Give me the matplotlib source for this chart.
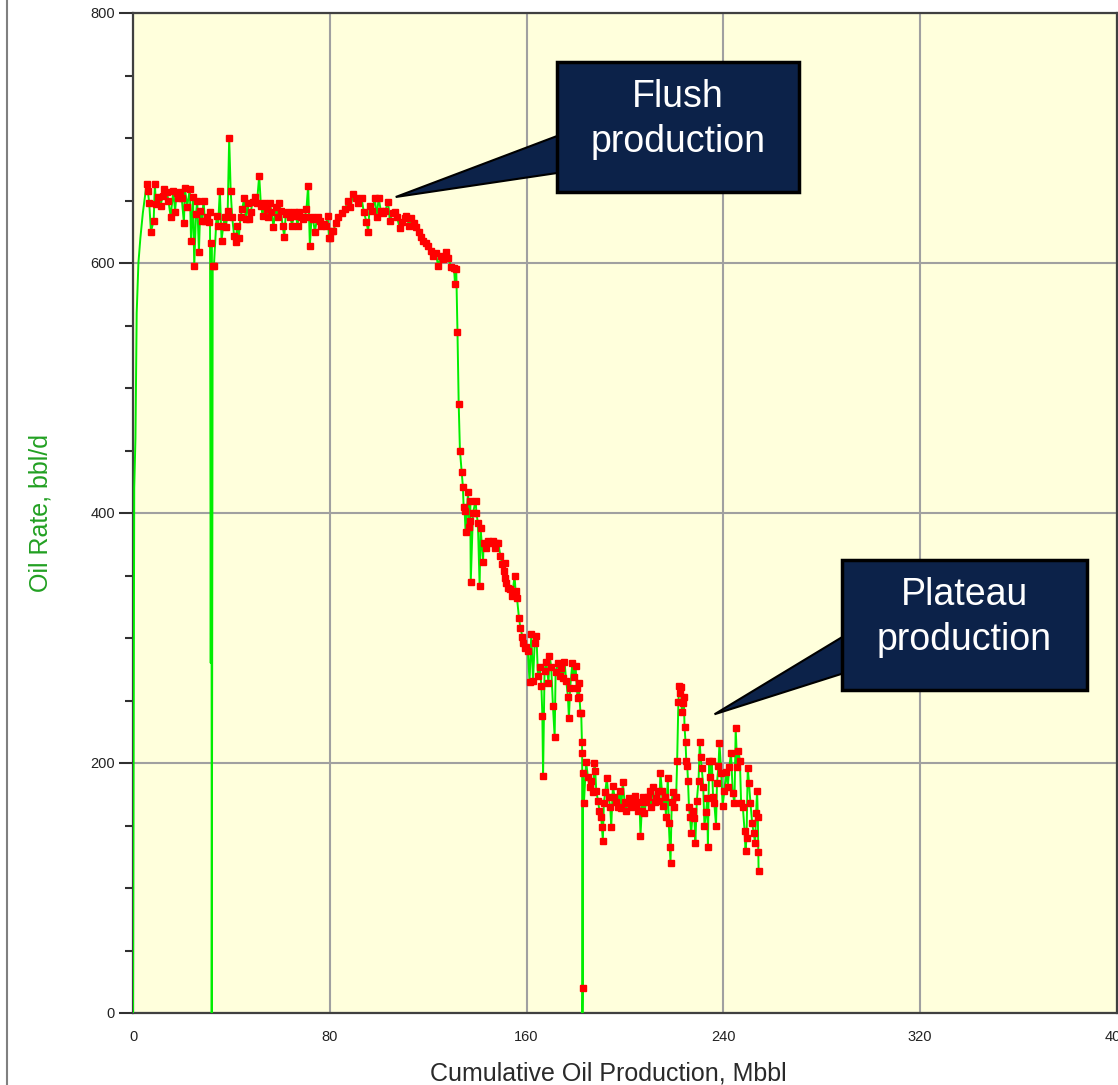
import numpy as np
import matplotlib
matplotlib.use("Agg")
from matplotlib import pyplot as plt
from matplotlib.patches import Polygon, Rectangle
from matplotlib.ticker import MultipleLocator

plt.rcParams['font.family'] = ['Liberation Sans', 'DejaVu Sans']

# cumulative oil production, Mbbl
cum_oil = [
    0.0, 0.2, 0.5, 1.0, 1.5, 2.2, 3.0, 4.0,
    5.5, 6.0, 6.6, 7.3, 8.4, 8.9, 9.3, 10.3, 11.2, 12.1, 12.7, 13.7, 14.4, 15.3,
    16.4, 17.1, 17.7, 18.4, 19.1, 19.8, 20.7, 21.1, 22.0, 23.1, 23.6, 24.4, 24.9,
    25.6, 26.1, 26.8, 27.3, 28.0, 28.7, 29.2, 29.9, 30.9, 31.3, 31.6, 31.9, 32.0,
    32.4, 32.9, 34.0, 34.6, 35.3, 36.0, 36.7, 37.4, 37.8, 38.5, 39.1, 39.7, 40.3,
    41.1, 41.7, 42.4, 43.0, 43.7, 44.4, 45.2, 45.9, 46.6, 47.2, 47.9, 48.6, 49.5,
    50.4, 51.3, 52.0, 52.7, 53.3, 54.3, 55.0, 55.6, 56.3, 57.1, 58.0, 58.8, 59.4,
    60.1, 60.8, 61.5, 62.1, 63.1, 63.9, 64.7, 65.5, 66.2, 66.9, 67.5, 68.2, 69.2,
    69.9, 70.5, 71.2, 71.9, 72.6, 73.2, 73.9, 75.0, 75.9, 76.6, 77.6, 78.4, 79.1,
    79.7, 80.0, 80.7, 81.3, 82.7, 83.4, 84.8, 86.1, 87.4, 88.4, 89.5, 90.6, 91.5,
    92.9, 93.8, 94.9, 95.6, 96.2, 97.3, 98.3, 99.0, 99.9, 100.7, 101.6, 102.6,
    103.7, 104.4, 105.5, 106.4, 107.3, 108.4, 109.5, 110.5, 111.1, 112.2, 113.2,
    114.1, 115.2, 116.1, 117.0, 117.9, 119.0, 119.9, 121.0, 122.0, 123.1, 124.0,
    125.2, 126.0, 127.1, 128.0, 129.4, 130.5, 130.9, 131.4, 131.9, 132.4, 132.9,
    133.6, 134.1, 134.4, 134.8, 135.2, 136.2, 136.5, 136.9, 137.1, 137.3, 138.2,
    139.3, 139.6, 140.2, 140.9, 141.3, 142.3, 142.5, 143.6, 144.3, 145.3, 146.3,
    147.0, 147.7, 148.5, 149.3, 150.1, 150.7, 151.2, 151.4, 151.8, 152.5, 153.4,
    154.2, 155.1, 155.5, 156.1, 156.9, 157.5, 158.3, 158.5, 159.2, 159.9, 160.5,
    161.2, 161.9, 162.6, 163.3, 164.0, 164.6, 165.3, 166.0, 166.4, 166.7, 167.3,
    168.0, 168.9, 169.3, 170.0, 170.7, 171.4, 171.8, 172.7, 173.4, 174.1, 174.8,
    175.4, 176.1, 176.8, 177.2, 177.7, 178.6, 179.1, 179.9, 180.4, 180.8, 181.1,
    181.5, 181.9, 182.2, 182.5, 182.6, 182.7, 182.8, 182.9, 183.3, 184.2, 184.9,
    185.6, 186.3, 187.0, 187.6, 187.9, 188.3, 189.0, 189.6, 190.3, 190.6, 191.0,
    191.4, 192.0, 192.6, 193.3, 194.0, 194.4, 195.1, 195.7, 196.4, 197.1, 197.8,
    198.5, 199.1, 199.8, 200.5, 201.1, 201.8, 202.5, 203.2, 203.9, 204.5, 205.2,
    205.9, 206.3, 206.8, 207.2, 207.9, 208.6, 209.3, 210.0, 210.6, 211.3, 212.0,
    212.7, 213.4, 214.0, 214.4, 215.0, 215.4, 216.1, 216.7, 217.4, 217.8, 218.2,
    218.5, 219.0, 219.4, 220.1, 220.8, 221.2, 221.7, 222.1, 222.5, 222.8, 223.1,
    223.5, 223.9, 224.2, 224.6, 224.9, 225.3, 225.6, 226.0, 226.4, 226.9, 227.6,
    228.2, 228.6, 229.2, 229.9, 230.4, 230.7, 231.2, 231.8, 232.3, 233.0, 233.4,
    233.7, 234.2, 234.7, 235.3, 235.8, 236.3, 237.0, 237.4, 238.0, 238.4, 239.1,
    239.7, 240.4, 241.1, 241.8, 242.4, 243.1, 243.8, 244.5, 245.0, 245.6, 246.1,
    246.7, 247.2, 247.9, 248.6, 249.0, 249.4, 249.9, 250.4, 251.0, 251.7, 252.3,
    252.9, 253.3, 253.7, 254.0, 254.2, 254.3,
]

# oil rate, bbl/d
oil_rate = [
    0, 172, 420, 460, 560, 600, 620, 640,
    663, 658, 648, 625, 634, 663, 647, 653, 646, 654, 659, 657, 650, 637,
    658, 641, 656, 652, 657, 652, 632, 660, 645, 659, 618, 653, 598,
    639, 650, 609, 642, 634, 650, 634, 637, 633, 641, 280, 616, 0,
    598, 598, 638, 630, 658, 618, 630, 637, 629, 642, 700, 658, 637,
    622, 617, 630, 620, 637, 643, 652, 635, 648, 635, 641, 649, 653,
    648, 670, 646, 638, 648, 643, 637, 648, 641, 629, 645, 637, 648,
    642, 630, 621, 639, 641, 637, 630, 641, 638, 630, 641, 637, 635,
    637, 643, 662, 614, 637, 635, 625, 637, 634, 630, 631, 630, 638,
    620, 620, 626, 626, 632, 637, 640, 643, 650, 645, 655, 652, 648,
    652, 641, 633, 625, 646, 642, 652, 637, 652, 642, 640, 642,
    649, 634, 640, 641, 637, 628, 633, 636, 638, 630, 636,
    632, 629, 625, 621, 618, 616, 614, 610, 606, 608, 598,
    606, 603, 609, 604, 597, 596, 583, 595, 545, 487, 450,
    433, 421, 405, 402, 385, 417, 389, 394, 410, 345, 400,
    410, 400, 392, 342, 388, 361, 376, 372, 378, 376, 378,
    372, 376, 376, 366, 359, 354, 360, 348, 344, 340, 339,
    334, 350, 338, 332, 316, 308, 301, 296, 292, 293, 290,
    265, 303, 266, 296, 302, 270, 277, 262, 238, 190, 274,
    281, 264, 286, 277, 246, 221, 273, 280, 270, 276, 268,
    281, 266, 253, 236, 260, 280, 269, 278, 260, 252, 264,
    253, 240, 240, 217, 208, 0, 20, 192, 168, 201, 189,
    181, 186, 177, 200, 194, 178, 170, 162, 157, 149, 138,
    168, 177, 188, 173, 165, 149, 182, 173, 169, 165, 178,
    164, 185, 169, 162, 168, 172, 165, 169, 174, 166, 162,
    169, 142, 162, 173, 160, 169, 173, 178, 165, 181, 169,
    172, 178, 170, 192, 178, 166, 173, 157, 188, 152, 133,
    120, 169, 177, 165, 173, 202, 249, 262, 256, 261, 241,
    248, 253, 229, 217, 202, 198, 186, 165, 157, 144, 162,
    156, 136, 170, 186, 217, 205, 196, 181, 150, 161, 172,
    133, 202, 189, 202, 173, 168, 150, 184, 198, 216, 192,
    166, 178, 193, 181, 197, 208, 176, 168, 228, 197, 210,
    202, 168, 165, 146, 130, 140, 196, 184, 168, 152, 144,
    136, 160, 178, 157, 129, 114,
]

x_ticks = [0, 80, 160, 240, 320, 400]
y_ticks = [0, 200, 400, 600, 800]

fig = plt.figure(figsize=(11.18, 10.85), dpi=100)
ax = fig.add_axes([133 / 1118, 72 / 1085, 984 / 1118, 1000 / 1085])
ax.set_facecolor('#ffffdc')

x = np.array(cum_oil)
y = np.array(oil_rate)
# early ramp and the shut-in drops are drawn without markers
marked = [i for i in range(len(x)) if x[i] >= 5 and y[i] > 300 or (x[i] > 150 and y[i] > 10)]

ax.plot(x, y, color='#00ee00', lw=1.4, zorder=3,
        marker='s', ms=4.0, mfc='#ff0000', mec='#ff0000', markevery=marked)

ax.set_xlim(0, 400)
ax.set_ylim(0, 800)
ax.set_xticks(x_ticks)
ax.set_yticks(y_ticks)
ax.yaxis.set_minor_locator(MultipleLocator(50))
ax.grid(True, which='major', color='#a0a0a0', lw=1.5, zorder=1)
ax.set_axisbelow(True)
for s in ax.spines.values():
    s.set_color('#404040')
    s.set_linewidth(1.6)

ax.tick_params(axis='y', which='major', length=10, width=1.5, color='#303030',
               labelsize=10.5, labelcolor='#222222', pad=3)
ax.tick_params(axis='y', which='minor', length=5.5, width=1.5, color='#303030')
ax.tick_params(axis='x', which='major', length=0, labelsize=10.5,
               labelcolor='#222222', pad=12)

ax.set_ylabel('Oil Rate, bbl/d', fontsize=18, color='#22a022')
ax.yaxis.set_label_coords(-0.082, 0.5)
ax.set_xlabel('Cumulative Oil Production, Mbbl', fontsize=18, color='#2a2a2a')
ax.xaxis.set_label_coords(0.483, -0.048)


def callout(ax, box, wedge, tip, text):
    # box: (x0, y0, x1, y1) in data units, wedge: base points on box edge
    x0, y0, x1, y1 = box
    poly = Polygon([wedge[0], wedge[1], tip], closed=True, facecolor='#0c2249',
                   edgecolor='#000000', lw=1.5, zorder=6, clip_on=False)
    ax.add_patch(poly)
    rect = Rectangle((x0, y0), x1 - x0, y1 - y0, facecolor='#0c2249',
                     edgecolor='#000000', lw=2.5, zorder=7, clip_on=False)
    ax.add_patch(rect)
    ax.text((x0 + x1) / 2, (y0 + y1) / 2 + 6, text, ha='center', va='center',
            fontsize=27, color='white', zorder=8, linespacing=1.3)


callout(ax, (172.2, 656.8, 270.9, 760.8), [(172.4, 701.6), (172.4, 672.0)],
        (106.8, 652.8), 'Flush\nproduction')
callout(ax, (288.3, 258.4, 387.8, 362.4), [(288.5, 301.0), (288.5, 271.6)],
        (236.4, 239.0), 'Plateau\nproduction')

# thin frame line on the far left
fig.add_artist(plt.Line2D([7 / 1118, 7 / 1118], [0, 1], color='#808080', lw=1.5))

fig.savefig('out.png', dpi=100)
